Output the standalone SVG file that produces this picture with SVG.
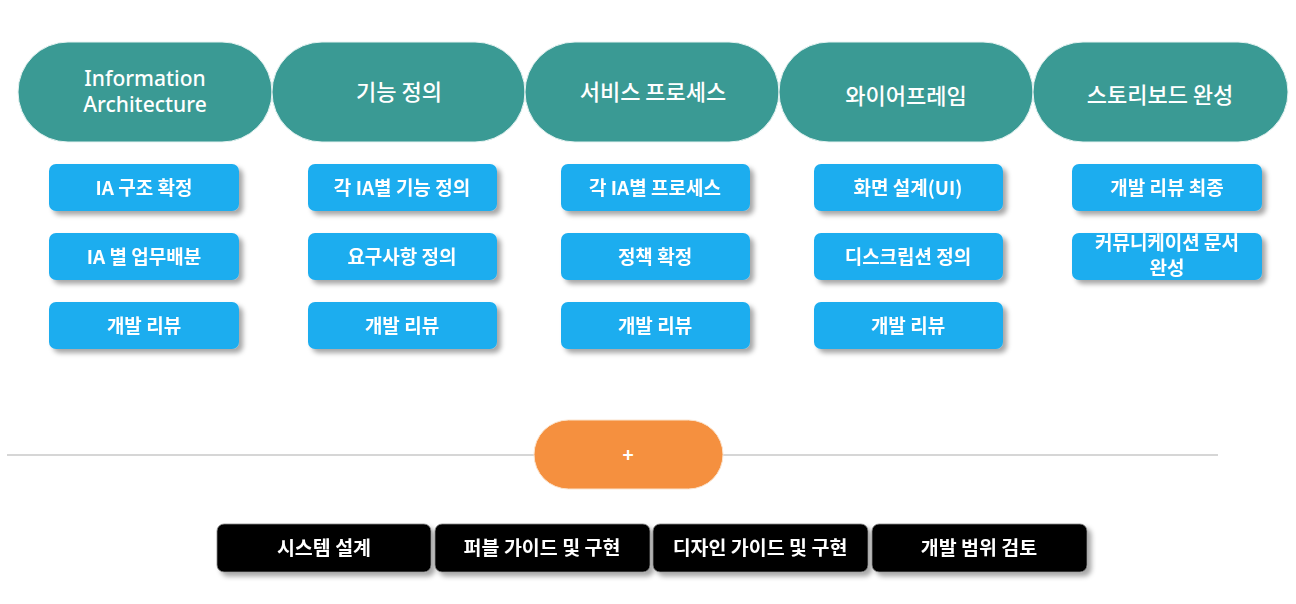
<svg xmlns="http://www.w3.org/2000/svg" width="1296" height="604" viewBox="0 0 1296 604">
<defs>
<filter id="sh" x="-10%" y="-20%" width="130%" height="160%">
<feDropShadow dx="4" dy="4" stdDeviation="2.5" flood-color="#000" flood-opacity="0.35"/>
</filter>
<style>
.pill{fill:#3A9A94;stroke:#E6F3F2;stroke-width:1}
.task{fill:#1FADEF}
.blk{fill:#000;stroke:#888;stroke-width:0.8}
.ht{font-family:"Noto Sans","Noto Sans CJK KR",sans-serif;font-size:21px;font-weight:500;fill:#fff;text-anchor:middle}
.hk{font-family:"Noto Sans CJK KR",sans-serif;font-size:22px;font-weight:500;fill:#fff;text-anchor:middle}
.tt{font-family:"Noto Sans CJK KR",sans-serif;font-size:19px;font-weight:700;fill:#fff;text-anchor:middle}
.bt{font-family:"Noto Sans CJK KR",sans-serif;font-size:19.5px;font-weight:700;fill:#fff;text-anchor:middle}
</style>
</defs>
<rect width="1296" height="604" fill="#fff"/>
<g id="connectors">
<line x1="7" y1="455" x2="1218" y2="455" stroke="#C8C8C8" stroke-width="1.5"/>
</g>
<g id="h1"><rect class="pill" x="18" y="42" width="254" height="100" rx="50"/><text class="ht" x="145" y="86">Information</text><text class="ht" x="145" y="112">Architecture</text></g>
<g id="h2"><rect class="pill" x="272" y="42" width="253" height="100" rx="50"/><text class="hk" x="399" y="100">기능 정의</text></g>
<g id="h3"><rect class="pill" x="525" y="42" width="254" height="100" rx="50"/><text class="hk" x="653" y="100">서비스 프로세스</text></g>
<g id="h4"><rect class="pill" x="779" y="42" width="254" height="100" rx="50"/><text class="hk" x="906" y="104">와이어프레임</text></g>
<g id="h5"><rect class="pill" x="1033" y="42" width="255" height="100" rx="50"/><text class="hk" x="1160" y="103">스토리보드 완성</text></g>

<g id="t11" filter="url(#sh)"><rect class="task" x="49" y="164" width="190" height="47" rx="7"/><text class="tt" x="144" y="195">IA 구조 확정</text></g>
<g id="t12" filter="url(#sh)"><rect class="task" x="49" y="233" width="190" height="47" rx="7"/><text class="tt" x="144" y="264">IA 별 업무배분</text></g>
<g id="t13" filter="url(#sh)"><rect class="task" x="49" y="302" width="190" height="47" rx="7"/><text class="tt" x="144" y="333">개발 리뷰</text></g>

<g id="t21" filter="url(#sh)"><rect class="task" x="308" y="164" width="189" height="47" rx="7"/><text class="tt" x="402" y="195">각 IA별 기능 정의</text></g>
<g id="t22" filter="url(#sh)"><rect class="task" x="308" y="233" width="189" height="47" rx="7"/><text class="tt" x="402" y="264">요구사항 정의</text></g>
<g id="t23" filter="url(#sh)"><rect class="task" x="308" y="302" width="189" height="47" rx="7"/><text class="tt" x="402" y="333">개발 리뷰</text></g>

<g id="t31" filter="url(#sh)"><rect class="task" x="561" y="164" width="189" height="47" rx="7"/><text class="tt" x="655" y="195">각 IA별 프로세스</text></g>
<g id="t32" filter="url(#sh)"><rect class="task" x="561" y="233" width="189" height="47" rx="7"/><text class="tt" x="655" y="264">정책 확정</text></g>
<g id="t33" filter="url(#sh)"><rect class="task" x="561" y="302" width="189" height="47" rx="7"/><text class="tt" x="655" y="333">개발 리뷰</text></g>

<g id="t41" filter="url(#sh)"><rect class="task" x="814" y="164" width="189" height="47" rx="7"/><text class="tt" x="908" y="195">화면 설계(UI)</text></g>
<g id="t42" filter="url(#sh)"><rect class="task" x="814" y="233" width="189" height="47" rx="7"/><text class="tt" x="908" y="264">디스크립션 정의</text></g>
<g id="t43" filter="url(#sh)"><rect class="task" x="814" y="302" width="189" height="47" rx="7"/><text class="tt" x="908" y="333">개발 리뷰</text></g>

<g id="t51" filter="url(#sh)"><rect class="task" x="1072" y="164" width="190" height="47" rx="7"/><text class="tt" x="1167" y="195">개발 리뷰 최종</text></g>
<g id="t52" filter="url(#sh)"><rect class="task" x="1072" y="233" width="190" height="47" rx="7"/><text class="tt" x="1167" y="250" font-size="17">커뮤니케이션 문서</text><text class="tt" x="1167" y="275" font-size="17">완성</text></g>

<g id="plus"><rect x="534" y="420" width="189" height="69" rx="34.5" fill="#F5903F" stroke="#FBE3CC" stroke-width="1"/><text class="tt" x="628" y="462" font-size="22">+</text></g>

<g id="b1" filter="url(#sh)"><rect class="blk" x="217" y="524" width="214" height="48" rx="7"/><text class="bt" x="324" y="555">시스템 설계</text></g>
<g id="b2" filter="url(#sh)"><rect class="blk" x="435" y="524" width="215" height="48" rx="7"/><text class="bt" x="542" y="555">퍼블 가이드 및 구현</text></g>
<g id="b3" filter="url(#sh)"><rect class="blk" x="653" y="524" width="215" height="48" rx="7"/><text class="bt" x="760" y="555">디자인 가이드 및 구현</text></g>
<g id="b4" filter="url(#sh)"><rect class="blk" x="872" y="524" width="215" height="48" rx="7"/><text class="bt" x="979" y="555">개발 범위 검토</text></g>
</svg>
